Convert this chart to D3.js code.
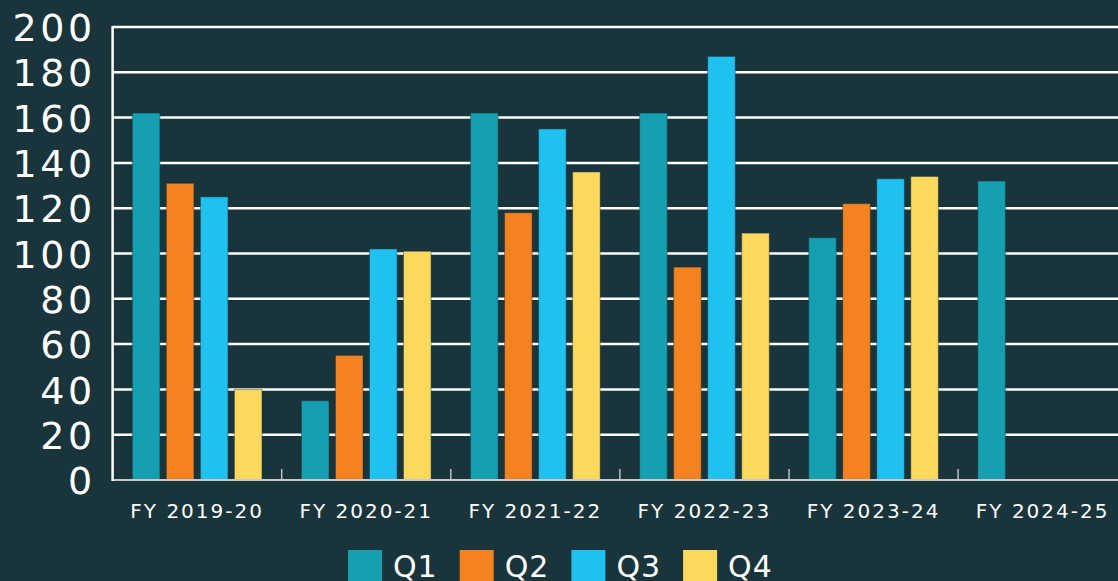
<!DOCTYPE html>
<html>
<head>
<meta charset="utf-8">
<script src="https://cdn.jsdelivr.net/npm/d3@7"></script>
<style>
  html, body { margin: 0; padding: 0; background: #19343a; overflow: hidden; }
  svg { display: block; }
  text { font-family: "DejaVu Sans", sans-serif; fill: #ffffff; }
</style>
</head>
<body>
<div id="chart"></div>
<script>
// data
var years = ["FY 2019-20", "FY 2020-21", "FY 2021-22", "FY 2022-23", "FY 2023-24", "FY 2024-25"];
var quarters = ["Q1", "Q2", "Q3", "Q4"];
var q1 = [162, 35, 162, 162, 107, 132];
var q2 = [131, 55, 118, 94, 122, null];
var q3 = [125, 102, 155, 187, 133, null];
var q4 = [40, 101, 136, 109, 134, null];
var yTicks = [0, 20, 40, 60, 80, 100, 120, 140, 160, 180, 200];
var colors = ["#169fb1", "#f58220", "#21c1ef", "#fcd95d"];

var series = [q1, q2, q3, q4];

// placement
var W = 1118, H = 581,
  mLeft = 112.6, mTop = 27,
  catW = 169.1,
  plotH = 453;

var svg = d3.select("#chart").append("svg")
  .attr("width", W)
  .attr("height", H);

var x0 = d3.scaleBand()
  .domain(years)
  .range([mLeft, mLeft + catW * years.length]);

var x1 = d3.scaleBand()
  .domain(quarters)
  .range([16.5, catW - 16.5])
  .paddingInner(0.19)
  .paddingOuter(0.095);

var y = d3.scaleLinear()
  .domain([0, 200])
  .range([mTop + plotH, mTop]);

// gridlines
svg.append("g").selectAll("line")
  .data(yTicks.slice(1))
  .enter().append("line")
  .attr("x1", mLeft)
  .attr("x2", W)
  .attr("y1", function(d) { return y(d); })
  .attr("y2", function(d) { return y(d); })
  .attr("stroke", "#ffffff")
  .attr("stroke-width", 2.5);

// y axis
var yAxis = d3.axisLeft(y)
  .tickValues(yTicks)
  .tickSize(0)
  .tickPadding(17);

svg.append("g")
  .attr("transform", "translate(" + mLeft + ",0)")
  .call(yAxis)
  .call(function(g) { g.select(".domain").remove(); })
  .selectAll("text")
  .attr("font-family", "DejaVu Sans, sans-serif")
  .attr("font-size", 38)
  .attr("letter-spacing", 3.5)
  .attr("dy", "0.36em")
  .attr("fill", "#ffffff");

// bars
var groups = svg.append("g").selectAll("g")
  .data(years)
  .enter().append("g")
  .attr("transform", function(d) { return "translate(" + x0(d) + ",0)"; });

groups.selectAll("rect")
  .data(function(d, i) {
    return quarters.map(function(q, j) { return {q: q, v: series[j][i], c: colors[j]}; })
      .filter(function(o) { return o.v != null; });
  })
  .enter().append("rect")
  .attr("x", function(d) { return x1(d.q); })
  .attr("width", x1.bandwidth())
  .attr("y", function(d) { return y(d.v); })
  .attr("height", function(d) { return y(0) - y(d.v); })
  .attr("fill", function(d) { return d.c; })
  .attr("stroke", "rgba(20,50,55,0.45)")
  .attr("stroke-width", 1);

// category ticks
svg.append("g").selectAll("line")
  .data(years.slice(1))
  .enter().append("line")
  .attr("x1", function(d) { return x0(d); })
  .attr("x2", function(d) { return x0(d); })
  .attr("y1", y(0))
  .attr("y2", y(0) - 11)
  .attr("stroke", "#b8c0c2")
  .attr("stroke-width", 1.5);

// axis lines
svg.append("line")
  .attr("x1", mLeft).attr("x2", W)
  .attr("y1", y(0)).attr("y2", y(0))
  .attr("stroke", "#c4cacb")
  .attr("stroke-width", 2);

svg.append("line")
  .attr("x1", mLeft).attr("x2", mLeft)
  .attr("y1", y(200) - 1).attr("y2", y(0) + 1)
  .attr("stroke", "#ffffff")
  .attr("stroke-width", 2.5);

// x labels
svg.append("g").selectAll("text")
  .data(years)
  .enter().append("text")
  .attr("x", function(d) { return x0(d) + catW / 2; })
  .attr("y", 518)
  .attr("text-anchor", "middle")
  .attr("font-size", 20)
  .attr("letter-spacing", 2)
  .text(function(d) { return d; });

// legend
var legend = svg.append("g").selectAll("g")
  .data(quarters)
  .enter().append("g")
  .attr("transform", function(d, i) { return "translate(" + (348 + i * 111.7) + ",550)"; });

legend.append("rect")
  .attr("width", 34)
  .attr("height", 34)
  .attr("fill", function(d, i) { return colors[i]; });

legend.append("text")
  .attr("x", 45)
  .attr("y", 26.5)
  .attr("font-size", 30)
  .attr("letter-spacing", 1)
  .text(function(d) { return d; });
</script>
</body>
</html>
